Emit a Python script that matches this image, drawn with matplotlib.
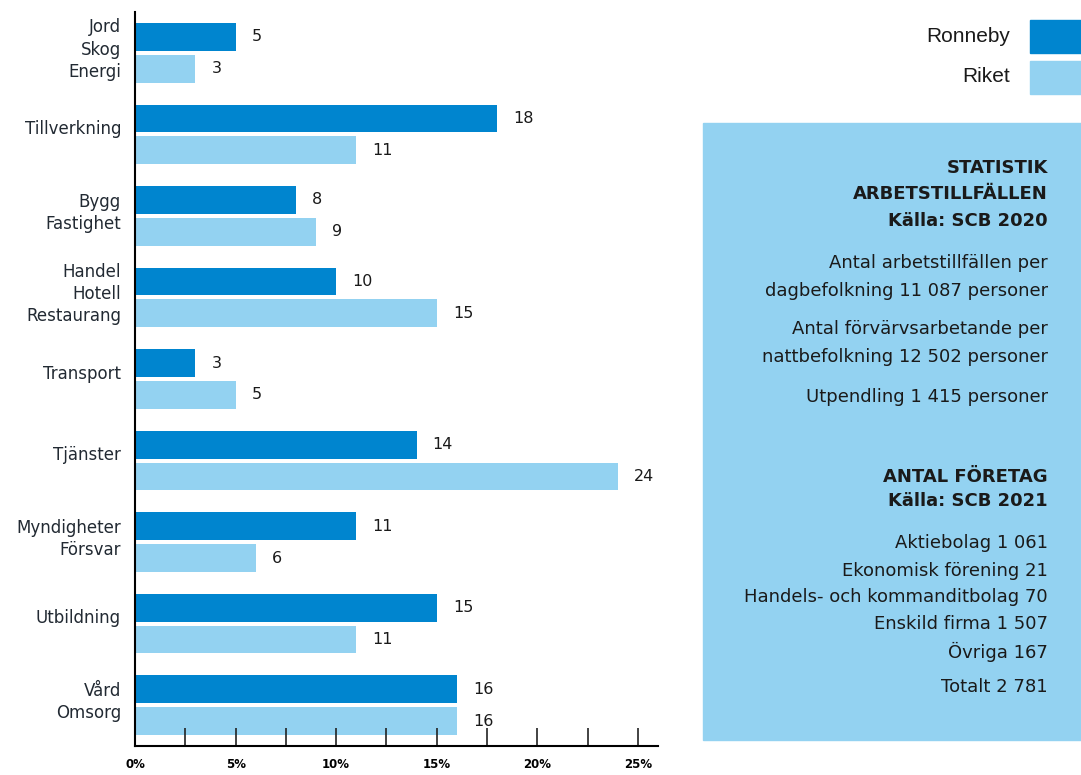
import numpy as np
import matplotlib.pyplot as plt
from matplotlib.patches import Rectangle
from matplotlib.ticker import MultipleLocator, FuncFormatter

# Andel sysselsatta per bransch (%)
kategorier = ['Jord\nSkog\nEnergi', 'Tillverkning', 'Bygg\nFastighet',
              'Handel\nHotell\nRestaurang', 'Transport', 'Tjänster',
              'Myndigheter\nFörsvar', 'Utbildning', 'Vård\nOmsorg']
ronneby = [5, 18, 8, 10, 3, 14, 11, 15, 16]
riket = [3, 11, 9, 15, 5, 24, 6, 11, 16]

serier = ['Ronneby', 'Riket']

statistik_rubrik = ['STATISTIK', 'ARBETSTILLFÄLLEN', 'Källa: SCB 2020']
statistik_rader = ['Antal arbetstillfällen per', 'dagbefolkning 11 087 personer',
                   'Antal förvärvsarbetande per', 'nattbefolkning 12 502 personer',
                   'Utpendling 1 415 personer']
foretag_rubrik = ['ANTAL FÖRETAG', 'Källa: SCB 2021']
foretag_rader = ['Aktiebolag 1 061', 'Ekonomisk förening 21',
                 'Handels- och kommanditbolag 70', 'Enskild firma 1 507',
                 'Övriga 167', 'Totalt 2 781']

MORK = '#0085cf'
LJUS = '#93d2f1'
TEXT = '#1a1a1a'

plt.rcParams['font.family'] = ['DejaVu Sans']

W, H = 1081, 775
fig = plt.figure(figsize=(W / 100, H / 100), dpi=100)

# stapeldiagram, placerat i pixlar
x0, x1, y0, y1 = 135, 658, 12, 746
ax = fig.add_axes([x0 / W, 1 - y1 / H, (x1 - x0) / W, (y1 - y0) / H])

y = np.arange(len(kategorier))
h = 0.34
off = 0.195
ax.barh(y - off, ronneby, height=h, color=MORK)
ax.barh(y + off, riket, height=h, color=LJUS)

for i in range(len(kategorier)):
    ax.text(ronneby[i] + 0.8, y[i] - off, str(ronneby[i]), va='center', ha='left',
            fontsize=11.5, color=TEXT)
    ax.text(riket[i] + 0.8, y[i] + off, str(riket[i]), va='center', ha='left',
            fontsize=11.5, color=TEXT)

ax.set_xlim(0, 26)
ax.set_ylim(len(kategorier) - 0.5, -0.5)
# kategorinamnen sitter lite ovanför gruppens mitt
ax.set_yticks(y - 0.09)
ax.set_yticklabels(kategorier, fontsize=12, color='#222a33', linespacing=1.3)
ax.tick_params(axis='y', length=0, pad=10)

ax.xaxis.set_major_locator(MultipleLocator(5))
ax.xaxis.set_minor_locator(MultipleLocator(2.5))
ax.xaxis.set_major_formatter(FuncFormatter(lambda v, p: f'{v:.0f}%'))
ax.tick_params(axis='x', which='both', direction='in', length=13, width=1.2,
               color='#222222', labelsize=8.5, pad=9)
for lbl in ax.get_xticklabels():
    lbl.set_fontweight('bold')

for s in ['top', 'right']:
    ax.spines[s].set_visible(False)
ax.spines['left'].set_linewidth(1.5)
ax.spines['bottom'].set_linewidth(1.5)

# högerpanel: förklaring och faktaruta i pixelkoordinater
pan = fig.add_axes([0, 0, 1, 1])
pan.set_xlim(0, W)
pan.set_ylim(H, 0)
pan.axis('off')

for k, (namn, farg) in enumerate(zip(serier, [MORK, LJUS])):
    yc = 36 + k * 41
    pan.add_patch(Rectangle((1030, yc - 16), 60, 33, color=farg))
    pan.text(1010, yc, namn, ha='right', va='center', fontsize=15,
             family='Liberation Sans', color=TEXT)

pan.add_patch(Rectangle((703, 123), 400, 617, color=LJUS))

xr = 1048
fs = 13
for txt, yy in zip(statistik_rubrik, [168, 194, 221]):
    pan.text(xr, yy, txt, ha='right', va='center', fontsize=fs,
             fontweight='bold', color=TEXT)
for txt, yy in zip(statistik_rader, [263, 291, 329, 357, 397]):
    pan.text(xr, yy, txt, ha='right', va='center', fontsize=fs, color=TEXT)
for txt, yy in zip(foretag_rubrik, [477, 501]):
    pan.text(xr, yy, txt, ha='right', va='center', fontsize=fs,
             fontweight='bold', color=TEXT)
for txt, yy in zip(foretag_rader, [543, 571, 597, 624, 652, 687]):
    pan.text(xr, yy, txt, ha='right', va='center', fontsize=fs, color=TEXT)

fig.savefig('out.png', dpi=100)
